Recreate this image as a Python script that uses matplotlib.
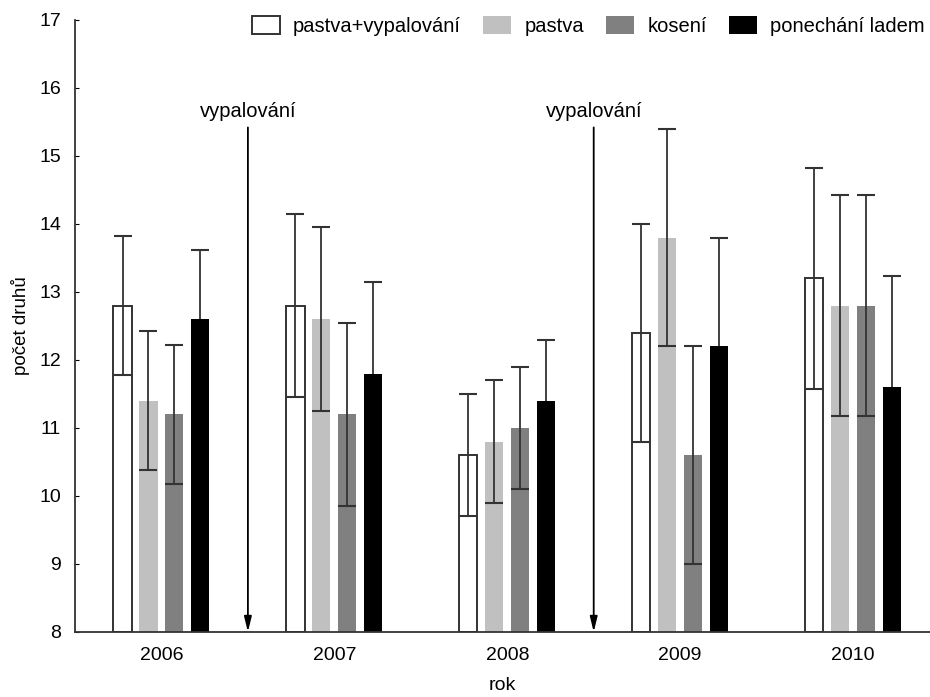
import numpy as np
from matplotlib import pyplot as plt

plt.rcParams['font.family'] = ['Liberation Sans', 'DejaVu Sans']

# data
roky = [2006, 2007, 2008, 2009, 2010]
serie = ['pastva+vypalování', 'pastva', 'kosení', 'ponechání ladem']
pastva_vypalovani = [12.8, 12.8, 10.6, 12.4, 13.2]
pastva = [11.4, 12.6, 10.8, 13.8, 12.8]
koseni = [11.2, 11.2, 11.0, 10.6, 12.8]
ponechani = [12.6, 11.8, 11.4, 12.2, 11.6]
chyba = [1.02, 1.35, 0.9, 1.6, 1.63]  # stejna chyba pro vsechny v danem roce
vypalovani_roky = [2006.5, 2008.5]

fig = plt.figure(figsize=(9.30, 6.97), dpi=100)
ax = fig.add_axes([75 / 930, 65 / 697, 855 / 930, 612 / 697])

x = np.array(roky, dtype=float)
w = 0.105
offs = [-0.225, -0.075, 0.075, 0.225]
barvy = ['white', '#c0c0c0', '#808080', 'black']
hodnoty = [pastva_vypalovani, pastva, koseni, ponechani]

for i in range(4):
    if i == 0:
        ax.bar(x + offs[i], np.array(hodnoty[i]) - 8, w, bottom=8, color='white',
               edgecolor='#333333', linewidth=1.4, label=serie[i], zorder=2)
    else:
        ax.bar(x + offs[i], np.array(hodnoty[i]) - 8, w, bottom=8, color=barvy[i],
               edgecolor='none', label=serie[i], zorder=2)
    # u cerneho sloupce je dolni cast chyby schovana pod sloupcem
    z = 1 if i == 3 else 3
    ax.errorbar(x + offs[i], hodnoty[i], yerr=chyba, fmt='none', ecolor='#333333',
                elinewidth=1.3, capsize=6.2, capthick=1.5, zorder=z)

for xv in vypalovani_roky:
    ax.annotate('', xy=(xv, 8.0), xytext=(xv, 15.42),
                arrowprops=dict(arrowstyle='-|>,head_length=0.9,head_width=0.22',
                                color='black', lw=1.3, shrinkA=0, shrinkB=0))
    ax.text(xv, 15.66, 'vypalování', ha='center', va='center', fontsize=14.5)

ax.set_xlim(2005.5, 2010.445)
ax.set_ylim(8, 17)
ax.set_yticks(range(8, 18))
ax.set_xticks(roky)
ax.tick_params(axis='y', direction='in', length=3, labelsize=14, pad=10)
ax.tick_params(axis='x', length=0, labelsize=14, pad=11)
ax.spines['top'].set_visible(False)
ax.spines['right'].set_visible(False)
ax.spines['left'].set_color('#333333')
ax.spines['bottom'].set_color('#333333')
ax.spines['left'].set_linewidth(1.3)
ax.spines['bottom'].set_linewidth(1.3)
ax.set_ylabel('počet druhů', fontsize=13.5, labelpad=7)
ax.set_xlabel('rok', fontsize=14, labelpad=9)

ax.legend(ncol=4, loc='center right', bbox_to_anchor=(1.0 + 5 / 855, 0.99), frameon=False,
          fontsize=14.5, handlelength=1.4, handleheight=1.0, handletextpad=0.65,
          columnspacing=1.1, borderaxespad=0.1)

fig.savefig('out.png', dpi=100)
